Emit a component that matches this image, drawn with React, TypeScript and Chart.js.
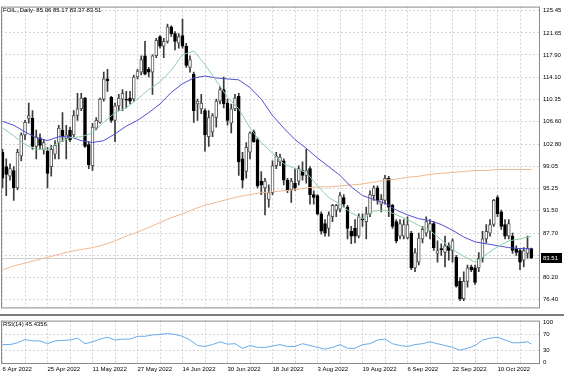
import React, { useEffect, useRef } from 'react';
import { Chart, registerables } from 'chart.js';

Chart.register(...registerables);

const chartTitle = 'FOIL,,Daily';
const rsiTitle = 'RSI(14)';
const rsiLastValue = '45.4356';

const dateLabels = ['6 Apr 2022', '25 Apr 2022', '11 May 2022', '27 May 2022', '14 Jun 2022', '30 Jun 2022', '18 Jul 2022', '3 Aug 2022', '19 Aug 2022', '6 Sep 2022', '22 Sep 2022', '10 Oct 2022'];
const priceTicks = [125.45, 121.65, 117.9, 114.1, 110.35, 106.6, 102.8, 99.05, 95.25, 91.5, 87.7, 83.95, 80.2, 76.4];
const rsiTicks = [100, 70, 30, 0];

const opens = [101.41, 98.96, 97.33, 98.31, 95.36, 100.76, 104.36, 107.14, 107.14, 102.40, 103.87, 101.90, 101.58, 98.96, 101.09, 103.05, 105.18, 103.70, 105.18, 104.36, 107.63, 108.77, 110.57, 102.72, 99.12, 105.50, 106.48, 110.41, 113.84, 110.73, 106.81, 109.26, 110.41, 110.41, 110.57, 110.41, 114.17, 114.99, 117.77, 115.48, 114.99, 117.77, 121.04, 119.40, 120.22, 122.67, 121.53, 119.89, 121.20, 119.40, 115.80, 114.66, 109.59, 108.77, 108.45, 104.03, 104.85, 107.30, 110.08, 112.04, 109.75, 106.32, 108.77, 110.90, 100.27, 98.14, 101.41, 104.85, 103.54, 96.51, 95.36, 93.40, 94.55, 99.12, 99.78, 99.94, 96.67, 95.04, 96.18, 96.51, 98.31, 97.49, 98.63, 94.22, 94.06, 90.95, 89.31, 88.50, 90.46, 91.60, 91.77, 93.73, 92.09, 88.01, 88.50, 87.19, 90.13, 89.64, 90.95, 94.06, 95.36, 92.58, 93.24, 97.00, 92.42, 89.64, 87.19, 87.19, 86.86, 87.68, 81.79, 82.77, 86.70, 87.68, 88.01, 89.31, 84.25, 85.06, 84.41, 85.55, 84.74, 83.59, 79.50, 76.56, 79.50, 81.96, 81.79, 81.79, 83.43, 86.70, 87.68, 89.15, 93.73, 91.28, 89.15, 87.19, 87.19, 85.06, 84.74, 83.10, 84.25, 85.06];
const highs = [101.90, 100.27, 99.45, 98.96, 101.90, 104.68, 106.81, 109.75, 108.45, 105.18, 104.52, 103.54, 102.23, 102.56, 103.38, 105.99, 108.12, 105.99, 105.67, 108.45, 111.39, 111.39, 110.73, 103.21, 106.32, 107.30, 110.57, 114.99, 115.48, 110.90, 109.75, 111.22, 112.04, 111.72, 111.72, 114.50, 115.48, 117.77, 120.22, 115.80, 117.93, 120.71, 121.20, 120.71, 123.16, 122.83, 121.85, 121.53, 123.98, 119.89, 117.77, 114.99, 110.41, 111.22, 108.77, 108.45, 107.95, 110.41, 112.53, 114.17, 110.41, 109.59, 111.22, 111.39, 101.41, 103.05, 104.85, 105.18, 103.87, 98.14, 97.00, 95.86, 99.94, 101.41, 101.09, 100.27, 97.00, 97.00, 98.63, 99.12, 99.78, 101.90, 98.96, 94.87, 94.22, 91.28, 89.97, 91.28, 92.58, 92.58, 94.55, 94.22, 92.42, 88.82, 89.97, 90.95, 90.95, 92.09, 94.87, 95.69, 95.69, 94.22, 97.49, 97.33, 92.58, 89.97, 89.97, 89.97, 90.46, 88.01, 85.06, 87.68, 88.82, 90.46, 89.97, 89.64, 86.37, 85.88, 87.19, 86.04, 86.70, 83.92, 80.16, 81.14, 82.28, 82.28, 82.28, 84.41, 88.01, 89.15, 89.97, 93.40, 94.06, 91.60, 89.97, 89.97, 87.68, 85.55, 85.06, 85.23, 87.19, 85.17];
const lows = [95.36, 94.06, 96.67, 93.24, 95.04, 99.94, 103.54, 106.32, 101.90, 100.27, 101.90, 101.09, 95.36, 97.33, 100.27, 100.27, 103.21, 100.27, 103.21, 104.03, 106.81, 108.45, 102.23, 98.63, 98.31, 105.18, 106.32, 110.08, 111.72, 106.48, 103.21, 108.45, 108.45, 108.94, 109.59, 110.08, 113.84, 114.50, 114.50, 114.17, 111.22, 117.44, 119.07, 117.44, 119.89, 121.04, 118.75, 119.07, 119.07, 115.80, 114.99, 106.48, 106.81, 107.95, 101.58, 102.40, 104.03, 105.67, 109.59, 108.94, 105.99, 104.68, 108.45, 97.49, 95.36, 97.00, 100.27, 103.05, 95.36, 94.22, 90.79, 92.09, 94.22, 98.63, 99.12, 95.86, 94.55, 92.91, 94.87, 95.86, 96.67, 96.18, 92.58, 92.58, 90.79, 87.52, 87.19, 87.19, 89.64, 90.46, 91.28, 92.09, 86.70, 85.88, 86.04, 86.86, 88.82, 86.70, 90.46, 93.24, 92.58, 91.28, 92.58, 90.46, 88.50, 86.04, 86.70, 86.70, 86.70, 81.47, 81.14, 82.28, 86.04, 87.19, 86.70, 84.74, 82.77, 83.92, 81.96, 83.10, 82.77, 78.52, 76.23, 76.23, 78.52, 81.14, 79.01, 81.14, 82.77, 86.04, 87.19, 88.82, 90.46, 88.33, 86.70, 86.70, 84.25, 83.92, 81.47, 81.96, 83.43, 83.37];
const closes = [97.00, 97.65, 98.63, 95.36, 101.41, 104.36, 106.48, 107.63, 102.40, 104.03, 102.56, 103.05, 97.82, 101.90, 102.56, 105.50, 104.03, 104.36, 103.54, 107.63, 108.77, 110.57, 102.40, 99.29, 105.67, 106.81, 110.41, 113.84, 113.51, 106.81, 109.26, 110.57, 111.39, 110.25, 110.08, 114.17, 115.15, 117.11, 114.66, 114.99, 117.77, 120.38, 119.40, 120.22, 122.67, 121.53, 120.22, 121.04, 119.40, 116.13, 117.11, 108.45, 110.08, 109.75, 104.36, 107.30, 107.63, 110.08, 112.04, 109.59, 106.81, 108.77, 110.57, 99.78, 96.67, 102.23, 104.68, 103.21, 95.69, 95.86, 96.51, 94.55, 99.12, 100.76, 100.60, 96.67, 95.04, 96.51, 95.36, 98.63, 97.49, 98.31, 94.22, 93.73, 90.95, 88.01, 87.68, 90.79, 92.42, 92.42, 94.06, 92.58, 88.50, 87.19, 87.19, 90.46, 89.97, 90.95, 94.22, 95.36, 93.24, 93.40, 97.00, 92.09, 88.82, 86.37, 89.31, 89.15, 89.15, 81.79, 84.41, 86.86, 88.33, 89.64, 89.31, 85.23, 84.74, 84.90, 85.55, 84.74, 86.37, 78.69, 76.56, 79.50, 81.79, 81.47, 79.34, 83.43, 86.70, 88.01, 89.15, 93.24, 90.95, 88.82, 87.19, 89.31, 84.74, 84.41, 82.77, 84.74, 85.06, 83.51];

const maBars = [0, 3, 6, 9, 12, 15, 18, 21, 24, 27, 30, 33, 36, 39, 42, 45, 48, 51, 54, 57, 60, 63, 66, 69, 72, 75, 78, 81, 84, 87, 90, 93, 96, 99, 102, 105, 108, 111, 114, 117, 120, 123, 126, 129, 132, 135, 138, 141];
const maFast = [105.50, 104.19, 102.72, 101.90, 101.90, 103.05, 103.87, 104.03, 104.68, 106.48, 108.12, 108.94, 110.41, 112.04, 113.35, 115.31, 117.93, 118.58, 116.29, 113.51, 110.73, 108.77, 105.50, 103.05, 101.25, 99.45, 98.63, 97.98, 95.69, 93.73, 92.58, 91.11, 90.13, 91.44, 91.60, 90.79, 89.97, 88.99, 88.17, 86.53, 84.90, 83.75, 82.77, 84.08, 85.39, 86.37, 86.70, 87.19];
const maMid = [106.65, 105.99, 104.85, 103.87, 103.38, 104.03, 104.03, 103.38, 103.05, 103.38, 104.52, 105.83, 106.81, 108.12, 109.59, 111.55, 113.02, 114.00, 114.33, 114.00, 113.84, 113.68, 112.37, 110.41, 107.63, 105.50, 103.54, 102.07, 100.43, 98.96, 97.49, 95.53, 94.06, 93.40, 92.75, 91.60, 90.79, 90.13, 89.80, 89.15, 88.17, 87.03, 86.21, 85.88, 85.55, 85.23, 85.06, 85.06];
const maSlow = [81.47, 82.12, 82.61, 83.10, 83.59, 84.08, 84.57, 84.90, 85.23, 85.72, 86.37, 87.19, 87.84, 88.66, 89.48, 90.30, 90.95, 91.77, 92.42, 92.91, 93.40, 93.89, 94.22, 94.55, 94.71, 94.87, 95.04, 95.36, 95.53, 95.53, 95.69, 95.86, 96.02, 96.35, 96.67, 96.84, 97.16, 97.33, 97.65, 97.82, 97.98, 98.14, 98.31, 98.31, 98.47, 98.47, 98.47, 98.47];

const rsiBars = [0, 2, 4, 6, 8, 10, 12, 14, 16, 18, 20, 22, 24, 26, 28, 30, 32, 34, 36, 38, 40, 42, 44, 46, 48, 50, 52, 54, 56, 58, 60, 62, 64, 66, 68, 70, 72, 74, 76, 78, 80, 82, 84, 86, 88, 90, 92, 94, 96, 98, 100, 102, 104, 106, 108, 110, 112, 114, 116, 118, 120, 122, 124, 126, 128, 130, 132, 134, 136, 138, 140, 141];
const rsiValues = [44.2, 44.2, 48.8, 57.0, 53.5, 53.5, 46.5, 53.5, 54.7, 55.8, 60.5, 46.5, 51.2, 58.1, 62.8, 55.8, 58.1, 58.1, 65.1, 65.1, 68.6, 69.8, 72.1, 69.8, 65.1, 55.8, 41.9, 39.5, 44.2, 51.2, 45.4, 46.5, 34.9, 41.9, 37.2, 37.2, 40.7, 44.2, 39.5, 39.5, 46.5, 41.9, 37.2, 32.6, 37.2, 44.2, 34.9, 34.9, 44.2, 46.5, 55.8, 58.1, 46.5, 41.9, 39.5, 44.2, 46.5, 51.2, 46.5, 41.9, 37.2, 30.2, 34.9, 41.9, 55.8, 60.5, 62.8, 55.8, 48.8, 48.8, 51.2, 45.4];

const FONT = '"Liberation Sans", Arial, sans-serif';
const GRID = '#d4d4d4';
const FRAME = '#8a8a8a';
const X_MIN = -0.4;
const X_MAX = 143.33;

function xGridTicks(scale: any) {
  const t: any[] = [];
  for (let i = 0; i < opens.length; i += 6) t.push({ value: i });
  scale.ticks = t;
}

export default function App() {
  const mainRef = useRef<HTMLCanvasElement>(null);
  const rsiRef = useRef<HTMLCanvasElement>(null);

  useEffect(() => {
    document.body.style.margin = '0';
    const last = closes.length - 1;
    const idx = opens.map((_, i) => i);
    const isUp = (i: number) => closes[i] >= opens[i];

    const mainPlugin = {
      id: 'mainDeco',
      beforeDatasetsDraw(chart: any) {
        const { ctx, chartArea: ca, scales } = chart;
        const y = Math.round(scales.y.getPixelForValue(closes[last])) + 0.5;
        ctx.save();
        ctx.strokeStyle = '#cfcfcf';
        ctx.lineWidth = 1;
        ctx.beginPath();
        ctx.moveTo(ca.left, y);
        ctx.lineTo(ca.right, y);
        ctx.stroke();
        ctx.restore();
      },
      afterDraw(chart: any) {
        const { ctx, chartArea: ca, scales } = chart;
        ctx.save();
        ctx.strokeStyle = FRAME;
        ctx.lineWidth = 1;
        ctx.strokeRect(ca.left + 0.5, ca.top + 0.5, ca.right - ca.left - 1, ca.bottom - ca.top);
        ctx.font = `6px ${FONT}`;
        ctx.fillStyle = '#000';
        ctx.textAlign = 'left';
        ctx.textBaseline = 'middle';
        const t = `${chartTitle}  ${opens[last].toFixed(2)} ${highs[last].toFixed(2)} ${lows[last].toFixed(2)} ${closes[last].toFixed(2)}`;
        ctx.fillText(t, ca.left + 2, ca.top + 4);
        const y = scales.y.getPixelForValue(closes[last]);
        ctx.fillStyle = '#000';
        ctx.fillRect(ca.right + 1, Math.round(y) - 5, 21, 10);
        ctx.fillStyle = '#fff';
        ctx.fillText(closes[last].toFixed(2), ca.right + 3, Math.round(y));
        ctx.restore();
      },
    };

    const main = new Chart(mainRef.current as HTMLCanvasElement, {
      type: 'bar',
      data: {
        datasets: [
          {
            type: 'line',
            data: maBars.map((b, k) => ({ x: b, y: maFast[k] })),
            borderColor: '#8ccfa6',
            borderWidth: 1,
            pointRadius: 0,
            order: 0,
          } as any,
          {
            type: 'line',
            data: maBars.map((b, k) => ({ x: b, y: maMid[k] })),
            borderColor: '#5050d2',
            borderWidth: 1,
            pointRadius: 0,
            order: 0,
          } as any,
          {
            type: 'line',
            data: maBars.map((b, k) => ({ x: b, y: maSlow[k] })),
            borderColor: '#f0b88f',
            borderWidth: 1,
            pointRadius: 0,
            order: 0,
          } as any,
          {
            type: 'bar',
            data: idx.map((i) => ({ x: i, y: [opens[i], closes[i]] })),
            backgroundColor: (c: any) => (isUp(c.dataIndex) ? '#ffffff' : '#000000'),
            borderColor: (c: any) => (isUp(c.dataIndex) ? '#555555' : '#000000'),
            borderWidth: 1,
            borderSkipped: false,
            barThickness: 3,
            grouped: false,
            order: 1,
          } as any,
          {
            type: 'bar',
            data: idx.map((i) => ({ x: i, y: [lows[i], highs[i]] })),
            backgroundColor: '#3a3a3a',
            barThickness: 1,
            grouped: false,
            order: 2,
          } as any,
        ],
      },
      options: {
        responsive: false,
        animation: false,
        events: [],
        layout: { padding: { left: 1, top: 2, right: 0, bottom: 0 } },
        plugins: { legend: { display: false }, tooltip: { enabled: false } },
        scales: {
          x: {
            type: 'linear',
            min: X_MIN,
            max: X_MAX,
            offset: false,
            afterBuildTicks: xGridTicks,
            afterFit: (s: any) => { s.height = 0; },
            ticks: { display: false },
            grid: { color: GRID, drawTicks: false, offset: false },
            border: { display: false, dash: [2, 2] },
          },
          y: {
            position: 'right',
            min: 75.092,
            max: 126.104,
            afterBuildTicks: (s: any) => { s.ticks = priceTicks.map((v) => ({ value: v })); },
            afterFit: (s: any) => { s.width = 24; },
            ticks: {
              callback: (v: any) => Number(v).toFixed(2),
              font: { family: FONT, size: 6 },
              color: '#000',
              padding: 3,
            },
            grid: { color: GRID, drawTicks: false },
            border: { display: false, dash: [2, 2] },
          },
        },
      } as any,
      plugins: [mainPlugin],
    });

    const rsiPlugin = {
      id: 'rsiDeco',
      afterDraw(chart: any) {
        const { ctx, chartArea: ca } = chart;
        ctx.save();
        ctx.fillStyle = '#7a7a7a';
        ctx.fillRect(0, 0, chart.width, 2);
        ctx.strokeStyle = FRAME;
        ctx.lineWidth = 1;
        ctx.strokeRect(ca.left + 0.5, ca.top + 0.5, ca.right - ca.left - 1, ca.bottom - ca.top - 1);
        ctx.font = `6px ${FONT}`;
        ctx.fillStyle = '#000';
        ctx.textAlign = 'left';
        ctx.textBaseline = 'middle';
        ctx.fillText(`${rsiTitle} ${rsiLastValue}`, ca.left + 2, ca.top + 4);
        ctx.restore();
      },
    };

    const rsi = new Chart(rsiRef.current as HTMLCanvasElement, {
      type: 'line',
      data: {
        datasets: [
          {
            data: rsiBars.map((b, k) => ({ x: b, y: rsiValues[k] })),
            borderColor: '#6aaae8',
            borderWidth: 1,
            pointRadius: 0,
          },
        ],
      },
      options: {
        responsive: false,
        animation: false,
        events: [],
        layout: { padding: { left: 1, top: 3, right: 0, bottom: 0 } },
        plugins: { legend: { display: false }, tooltip: { enabled: false } },
        scales: {
          x: {
            type: 'linear',
            min: X_MIN,
            max: X_MAX,
            offset: false,
            afterBuildTicks: xGridTicks,
            afterFit: (s: any) => { s.height = 12; },
            ticks: {
              autoSkip: false,
              maxRotation: 0,
              align: 'start',
              padding: 2,
              font: { family: FONT, size: 6 },
              color: '#000',
              callback: (v: any) => {
                const i = Math.round(Number(v));
                return i % 12 === 0 && dateLabels[i / 12] ? dateLabels[i / 12] : '';
              },
            },
            grid: { color: GRID, drawTicks: false, offset: false },
            border: { display: false, dash: [2, 2] },
          },
          y: {
            position: 'right',
            min: -4.65,
            max: 104.65,
            afterBuildTicks: (s: any) => { s.ticks = rsiTicks.map((v) => ({ value: v })); },
            afterFit: (s: any) => { s.width = 24; },
            ticks: { font: { family: FONT, size: 6 }, color: '#000', padding: 3 },
            grid: {
              color: (c: any) => (c.tick && (c.tick.value === 70 || c.tick.value === 30) ? GRID : 'rgba(0,0,0,0)'),
              drawTicks: false,
            },
            border: { display: false, dash: [2, 2] },
          },
        },
      } as any,
      plugins: [rsiPlugin],
    });

    return () => {
      main.destroy();
      rsi.destroy();
    };
  }, []);

  return (
    <div style={{ position: 'relative', width: 564, height: 376, background: '#fff' }}>
      <canvas ref={mainRef} width={564} height={314} style={{ position: 'absolute', left: 0, top: 0 }} />
      <canvas ref={rsiRef} width={564} height={62} style={{ position: 'absolute', left: 0, top: 314 }} />
    </div>
  );
}
